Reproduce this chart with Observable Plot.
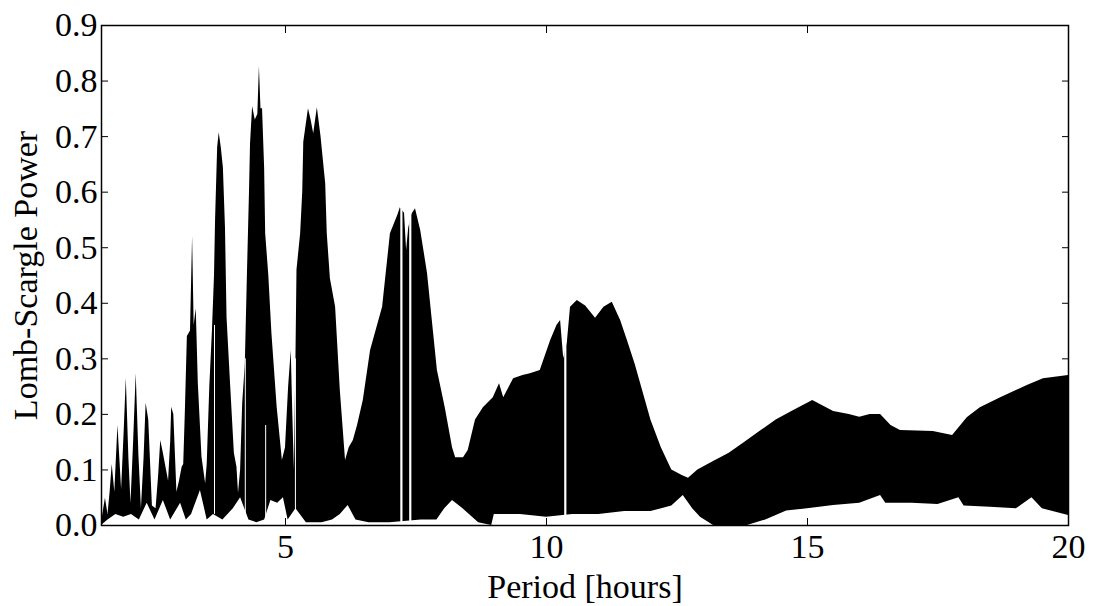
<!DOCTYPE html>
<html><head><meta charset="utf-8">
<script src="https://cdn.jsdelivr.net/npm/d3@7"></script>
<script src="https://cdn.jsdelivr.net/npm/@observablehq/plot@0.6"></script>
<style>
body{margin:0;background:#fff;}
#chart svg{display:block;}
#chart svg, #chart svg text{font-family:"Liberation Serif","DejaVu Serif","Times New Roman",serif !important;}
</style>
</head><body><div id="chart"></div>
<script>
// Upper envelope of the Lomb-Scargle periodogram
const upperPeriod = [1.475,1.50,1.55,1.60,1.64,1.68,1.73,1.79,1.86,1.91,1.95,2.00,2.04,2.09,2.14,2.19,2.24,2.29,2.33,2.38,2.45,2.52,2.57,2.61,2.66,2.72,2.76,2.80,2.82,2.86,2.92,2.97,3.02,3.05,3.08,3.12,3.18,3.22,3.25,3.29,3.33,3.40,3.47,3.50,3.55,3.60,3.64,3.66,3.70,3.73,3.77,3.81,3.85,3.88,3.95,4.02,4.07,4.10,4.14,4.18,4.23,4.27,4.29,4.31,4.33,4.37,4.42,4.47,4.50,4.53,4.56,4.60,4.62,4.68,4.74,4.84,4.94,5.00,5.06,5.11,5.14,5.17,5.20,5.22,5.29,5.33,5.35,5.44,5.49,5.54,5.61,5.68,5.77,5.80,5.86,5.96,6.05,6.15,6.22,6.30,6.38,6.49,6.63,6.86,7.01,7.15,7.20,7.28,7.32,7.36,7.42,7.49,7.59,7.72,7.91,8.06,8.20,8.26,8.41,8.50,8.64,8.79,8.98,9.10,9.18,9.37,9.55,9.69,9.88,10.08,10.20,10.27,10.33,10.40,10.46,10.59,10.75,10.94,11.10,11.26,11.42,11.55,11.70,11.85,12.00,12.20,12.40,12.60,12.72,12.90,13.20,13.50,13.80,14.10,14.40,14.70,14.90,15.10,15.30,15.50,15.80,16.00,16.20,16.40,16.60,16.78,17.10,17.41,17.78,18.06,18.31,18.70,19.21,19.52,20.00];
const upperPower = [0.005,0.02,0.049,0.02,0.06,0.11,0.06,0.18,0.065,0.17,0.265,0.12,0.04,0.15,0.273,0.13,0.03,0.12,0.22,0.19,0.035,0.03,0.09,0.153,0.13,0.10,0.08,0.15,0.213,0.2,0.06,0.08,0.105,0.11,0.2,0.34,0.35,0.52,0.36,0.39,0.255,0.123,0.075,0.11,0.25,0.35,0.45,0.549,0.68,0.707,0.68,0.644,0.536,0.374,0.25,0.13,0.105,0.058,0.1,0.22,0.29,0.45,0.525,0.6,0.687,0.754,0.73,0.74,0.826,0.75,0.75,0.644,0.525,0.45,0.345,0.213,0.117,0.14,0.25,0.315,0.2,0.1,0.3,0.46,0.525,0.6,0.69,0.75,0.73,0.705,0.752,0.7,0.615,0.525,0.444,0.393,0.243,0.117,0.14,0.153,0.18,0.225,0.315,0.393,0.525,0.558,0.572,0.562,0.495,0.535,0.56,0.57,0.531,0.454,0.279,0.212,0.14,0.122,0.122,0.135,0.19,0.212,0.23,0.255,0.23,0.264,0.27,0.273,0.279,0.333,0.36,0.369,0.30,0.33,0.393,0.405,0.395,0.373,0.393,0.402,0.369,0.333,0.29,0.24,0.19,0.14,0.10,0.09,0.085,0.10,0.115,0.13,0.15,0.17,0.19,0.205,0.215,0.225,0.215,0.205,0.2,0.195,0.2,0.2,0.18,0.171,0.17,0.169,0.162,0.194,0.212,0.23,0.252,0.264,0.27];

// Lower envelope (white region beneath the oscillations)
const lowerPeriod = [1.475,1.60,1.75,1.90,2.05,2.20,2.35,2.50,2.66,2.80,2.99,3.10,3.20,3.37,3.50,3.62,3.80,4.00,4.14,4.30,4.45,4.60,4.72,4.85,4.96,5.05,5.20,5.40,5.70,5.90,6.05,6.20,6.35,6.60,7.00,7.60,7.90,8.05,8.20,8.40,8.70,8.95,9.00,9.50,10.00,10.50,11.00,11.50,12.00,12.40,12.62,12.80,12.95,13.20,13.85,14.20,14.60,15.00,15.50,16.00,16.40,16.50,17.00,17.50,17.90,18.00,18.50,19.00,19.30,19.50,20.00];
const lowerPower = [0.0,0.01,0.02,0.015,0.02,0.01,0.04,0.01,0.045,0.01,0.04,0.01,0.02,0.063,0.01,0.02,0.01,0.03,0.05,0.01,0.005,0.01,0.045,0.04,0.05,0.01,0.03,0.005,0.005,0.01,0.02,0.036,0.01,0.005,0.005,0.01,0.01,0.03,0.045,0.03,0.005,0.0,0.02,0.02,0.015,0.02,0.02,0.025,0.025,0.035,0.054,0.03,0.015,0.0,0.0,0.01,0.026,0.03,0.036,0.04,0.054,0.04,0.04,0.038,0.05,0.035,0.033,0.03,0.05,0.03,0.018];

// Wide white gaps cutting through the filled oscillations
const gapPeriod = [7.22,7.39,10.36];
const gapBottom = [0.0,0.0,0.0];
const gapTop = [0.58,0.58,0.36];
// Thin white gaps
const thinGapPeriod = [3.64,4.23,4.62,5.19];
const thinGapBottom = [0.02,0.02,0.0,0.0];
const thinGapTop = [0.36,0.30,0.18,0.30];

const xTicks = [5,10,15,20];
const yTicks = [0,0.1,0.2,0.3,0.4,0.5,0.6,0.7,0.8,0.9];
const xLabel = "Period [hours]";
const yLabel = "Lomb-Scargle Power";

const upper = upperPeriod.map((p,i) => ({period: p, power: upperPower[i]}));
const lower = lowerPeriod.map((p,i) => ({period: p, power: lowerPower[i]}));
const gaps = gapPeriod.map((p,i) => ({period: p, bottom: gapBottom[i], top: gapTop[i]}));
const thinGaps = thinGapPeriod.map((p,i) => ({period: p, bottom: thinGapBottom[i], top: thinGapTop[i]}));

const serif = "Liberation Serif, DejaVu Serif, serif";
const fs = 34;
const chart = Plot.plot({
  width: 1097, height: 606,
  marginTop: 25, marginRight: 29, marginBottom: 81, marginLeft: 101,
  style: {fontFamily: serif, fontSize: fs + "px", background: "white", color: "black", overflow: "visible"},
  x: {domain: [1.475, 20]},
  y: {domain: [0, 0.9]},
  marks: [
    Plot.areaY(upper, {x: "period", y: "power", fill: "black"}),
    Plot.areaY(lower, {x: "period", y: "power", fill: "white"}),
    Plot.ruleX(gaps, {x: "period", y1: "bottom", y2: "top", stroke: "white", strokeWidth: 2.2}),
    Plot.ruleX(thinGaps, {x: "period", y1: "bottom", y2: "top", stroke: "white", strokeWidth: 1}),
    Plot.frame({stroke: "black", strokeWidth: 1.5}),
    Plot.axisX(xTicks, {anchor: "bottom", tickSize: 0, tickPadding: 8, fontSize: fs, fontFamily: serif, label: null}),
    Plot.axisX(xTicks, {anchor: "bottom", tickSize: -7, tickFormat: () => "", label: null}),
    Plot.axisX(xTicks, {anchor: "top", tickSize: -7, tickFormat: () => "", label: null}),
    Plot.axisY(yTicks, {anchor: "left", tickSize: 0, tickPadding: 4, fontSize: fs, fontFamily: serif, tickFormat: d => d.toFixed(1), label: null}),
    Plot.axisY(yTicks, {anchor: "left", tickSize: -7, tickFormat: () => "", label: null}),
    Plot.axisY(yTicks, {anchor: "right", tickSize: -7, tickFormat: () => "", label: null}),
    Plot.text([xLabel], {frameAnchor: "bottom", textAnchor: "middle", lineAnchor: "middle", dy: 62, fontSize: fs, fontFamily: serif, fill: "black"}),
    Plot.text([yLabel], {frameAnchor: "left", textAnchor: "middle", lineAnchor: "middle", rotate: -90, dx: -75, fontSize: fs, fontFamily: serif, fill: "black"})
  ]
});
document.getElementById("chart").appendChild(chart);
</script>
</body></html>
